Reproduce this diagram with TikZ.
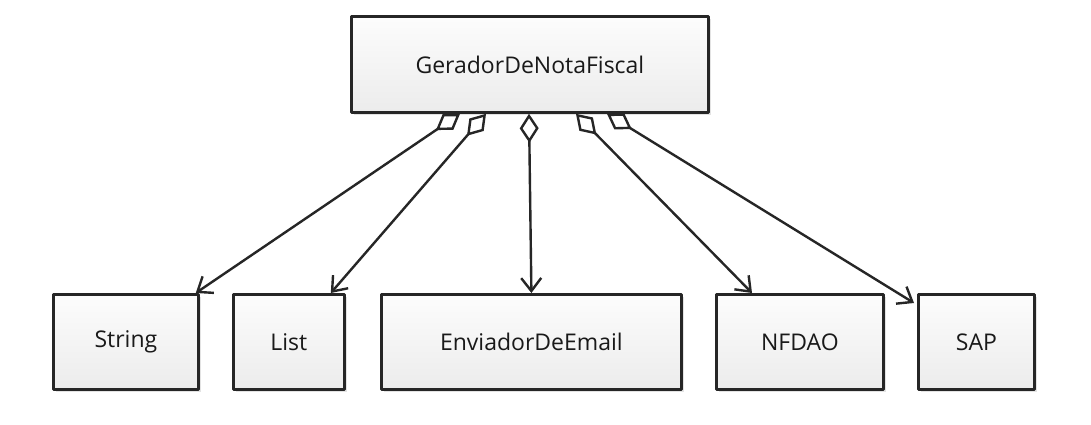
\documentclass[tikz,border=0pt]{standalone}
\usepackage{fontspec}
\setmainfont{Open Sans}
\usetikzlibrary{arrows.meta,shadows,calc}
\tikzset{
 cls/.style={draw=black!85, line width=2.8pt, line join=round, top color=gray!2, bottom color=gray!15,
   drop shadow={shadow xshift=3pt, shadow yshift=-3pt, opacity=0.22},
   font=\fontsize{23}{27}\selectfont, text=black!90, inner sep=0pt, anchor=north west},
 agg/.style={draw=black!85, line width=2.4pt,
   {Diamond[open,length=29pt,width=19pt,fill=white]}-{Straight Barb[length=13pt,width=20pt]}}
}
\begin{document}
\begin{tikzpicture}[x=1pt,y=-1pt]
\fill[white] (0,0) rectangle (1091,425);
\useasboundingbox (0,0) rectangle (1091,425);
\node[cls, minimum width=357pt, minimum height=96pt] (g) at (350,15) {GeradorDeNotaFiscal};
\node[cls, minimum width=145pt, minimum height=95pt] (string) at (52,293) {String};
\node[cls, minimum width=111pt, minimum height=95pt] (list) at (232,293) {List};
\node[cls, minimum width=300pt, minimum height=95pt] (email) at (380,293) {EnviadorDeEmail};
\node[cls, minimum width=167pt, minimum height=95pt] (nfdao) at (715,293) {NFDAO};
\node[cls, minimum width=116pt, minimum height=95pt] (sap) at (917,293) {SAP};
\draw[agg] ($(g.south west)+(110,0)$) -- ($(string.north east)+(-4,0)$);
\draw[agg] ($(g.south west)+(136,0)$) -- ($(list.north east)+(-15,0)$);
\draw[agg] ($(g.south west)+(179,0)$) -- (email.north);
\draw[agg] ($(g.south west)+(226,0)$) -- ($(nfdao.north west)+(37,0)$);
\draw[agg] ($(g.south west)+(257,0)$) -- ($(sap.north west)+(-3,10)$);
\end{tikzpicture}
\end{document}
